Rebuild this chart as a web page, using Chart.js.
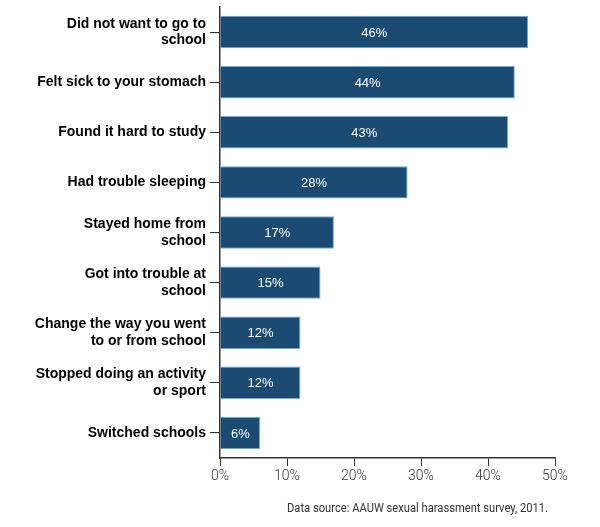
<!DOCTYPE html>
<html lang="en">
<head>
    <meta charset="UTF-8">
    <title>Effects of sexual harassment</title>
    <script src="https://cdn.jsdelivr.net/npm/chart.js"></script>
    <style>
        body { margin: 0; background: #fff; }
        #wrap { width: 600px; height: 527px; }
    </style>
</head>
<body>
<div id="wrap"><canvas id="barChart" width="600" height="527"></canvas></div>

<script type="text/javascript">
    // Data
    const categories = [
        ['Did not want to go to', 'school'],
        'Felt sick to your stomach',
        'Found it hard to study',
        'Had trouble sleeping',
        ['Stayed home from', 'school'],
        ['Got into trouble at', 'school'],
        ['Change the way you went', 'to or from school'],
        ['Stopped doing an activity', 'or sport'],
        'Switched schools'
    ];
    const percentages = [46, 44, 43, 28, 17, 15, 12, 12, 6];
    const xTicks = [0, 10, 20, 30, 40, 50];
    const sourceNote = 'Data source: AAUW sexual harassment survey, 2011.';

    // write the value in the middle of each bar + the source line
    const barLabels = {
        id: 'barLabels',
        afterDatasetsDraw(chart) {
            const ctx = chart.ctx;
            const meta = chart.getDatasetMeta(0);
            ctx.save();
            ctx.fillStyle = '#ffffff';
            ctx.font = '13px "Liberation Sans", Arial, sans-serif';
            ctx.textAlign = 'center';
            ctx.textBaseline = 'middle';
            meta.data.forEach((bar, i) => {
                const mid = (bar.x + bar.base) / 2;
                ctx.fillText(percentages[i] + '%', mid, bar.y + 1);
            });
            ctx.fillStyle = '#333';
            ctx.font = '13px Roboto, sans-serif';
            ctx.textAlign = 'right';
            // the original font is narrower, squeeze to its width
            ctx.fillText(sourceNote, 548, 509, 261);
            ctx.restore();
        }
    };

    new Chart(document.getElementById('barChart').getContext('2d'), {
        type: 'bar',
        data: {
            labels: categories,
            datasets: [{
                data: percentages,
                backgroundColor: '#1b4a72',
                borderColor: '#6aaee3',
                borderWidth: 1,
                categoryPercentage: 0.8,
                barPercentage: 0.81
            }]
        },
        options: {
            indexAxis: 'y',
            responsive: false,
            animation: false,
            layout: { padding: { top: 7, right: 45, left: 0, bottom: 0 } },
            plugins: {
                legend: { display: false },
                tooltip: { enabled: false }
            },
            scales: {
                x: {
                    min: 0,
                    max: 50,
                    afterBuildTicks(axis) {
                        axis.ticks = xTicks.map(v => ({ value: v }));
                    },
                    afterFit(axis) { axis.height = 69; },
                    grid: { drawOnChartArea: false, drawTicks: true, tickLength: 8, color: '#333' },
                    border: { display: true, color: '#333', width: 1.5 },
                    ticks: {
                        color: '#333',
                        padding: 2,
                        font: { family: 'Roboto', size: 14, weight: '300' },
                        callback: v => v + '%'
                    }
                },
                y: {
                    afterFit(axis) {
                        axis.width = 220;
                        // don't let the 2-line first label push the plot down
                        axis.paddingTop = 0;
                        axis.paddingBottom = 0;
                    },
                    grid: { offset: false, drawOnChartArea: false, drawTicks: true, tickLength: 10, color: '#333' },
                    border: { display: true, color: '#333', width: 1.5 },
                    ticks: {
                        color: '#000',
                        padding: 4,
                        font: { family: '"Liberation Sans", Arial, sans-serif', size: 14, weight: 'bold', lineHeight: 1.2 }
                    }
                }
            }
        },
        plugins: [barLabels]
    });
</script>
</body>
</html>
